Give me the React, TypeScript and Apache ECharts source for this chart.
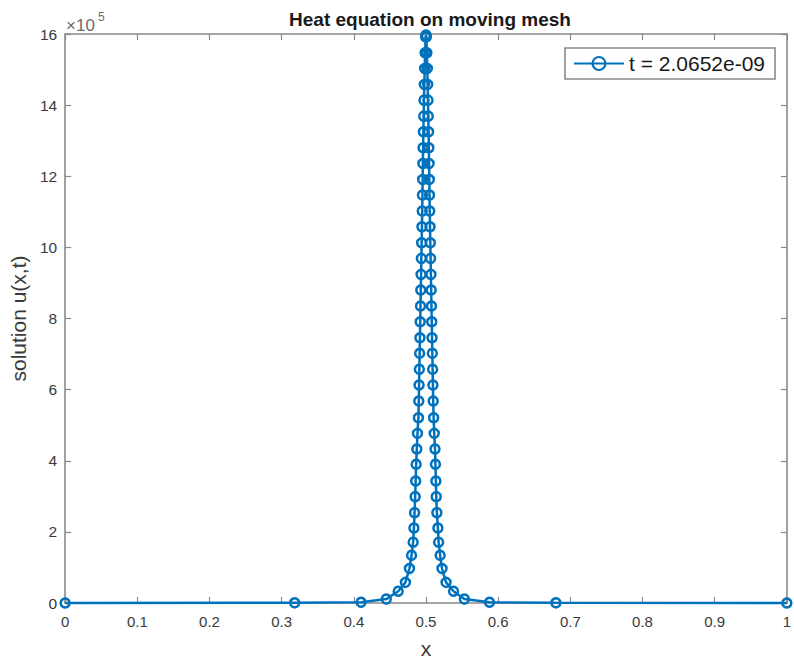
import React, { useEffect, useRef } from "react";
import * as echarts from "echarts";

// mesh node positions (x) and solution values (units of 1e5)
const meshX = [
  0, 0.318, 0.41, 0.445, 0.4615, 0.4715, 0.4771, 0.48, 0.4822, 0.4833,
  0.4842, 0.485, 0.4857, 0.4864, 0.4873, 0.4882, 0.4895, 0.49, 0.4904, 0.4908,
  0.4912, 0.4916, 0.492, 0.4924, 0.4928, 0.4932, 0.4936, 0.494, 0.4944, 0.4948,
  0.4951, 0.4954, 0.4957, 0.496, 0.4964, 0.4968, 0.4972, 0.4977, 0.4982, 0.4988,
  0.4995, 0.5,
  0.5005, 0.5012, 0.5018, 0.5023, 0.5028, 0.5032, 0.5036, 0.504, 0.5043, 0.5046,
  0.5049, 0.5052, 0.5056, 0.506, 0.5064, 0.5068, 0.5072, 0.5076, 0.508, 0.5084,
  0.5088, 0.5092, 0.5096, 0.51, 0.5106, 0.5114, 0.5125, 0.5131, 0.5137, 0.5142,
  0.5151, 0.5165, 0.5175, 0.5196, 0.5222, 0.5278, 0.5382, 0.5532, 0.588, 0.68,
  1,
];
const solutionU = [
  0, 0.005, 0.02, 0.11, 0.33, 0.58, 0.97, 1.34, 1.71, 2.11,
  2.54, 2.99, 3.43, 3.9, 4.33, 4.77, 5.21, 5.68, 6.13, 6.57,
  7.02, 7.46, 7.91, 8.35, 8.8, 9.24, 9.69, 10.13, 10.58, 11.02,
  11.47, 11.91, 12.36, 12.8, 13.25, 13.69, 14.14, 14.58, 15.03, 15.47,
  15.92, 15.97,
  15.92, 15.47, 15.03, 14.58, 14.14, 13.69, 13.25, 12.8, 12.36, 11.91,
  11.47, 11.02, 10.58, 10.13, 9.69, 9.24, 8.8, 8.35, 7.91, 7.46,
  7.02, 6.57, 6.13, 5.68, 5.21, 4.77, 4.33, 3.9, 3.43, 2.99,
  2.54, 2.11, 1.71, 1.34, 0.97, 0.58, 0.33, 0.11, 0.02, 0.005,
  0,
];
const seriesName = "t = 2.0652e-09";
const titleText = "Heat equation on moving mesh";
const xLabel = "x";
const yLabel = "solution u(x,t)";

const FONT = "Liberation Sans, Arial, Helvetica, sans-serif";
const AXIS = "#8a8a8a";
const TXT = "#3a3a3a";
const BLUE = "#0072BD";

export default function App() {
  const ref = useRef<HTMLDivElement>(null);
  useEffect(() => {
    if (!ref.current) return;
    const chart = echarts.init(ref.current, null, { renderer: "svg" });
    const data = meshX.map((x, i) => [x, solutionU[i]]);
    const tick = { show: true, inside: true, length: 6, lineStyle: { color: AXIS, width: 1.2 } };
    const line = { show: true, onZero: false, lineStyle: { color: AXIS, width: 1.6 } };
    chart.setOption({
      animation: false,
      backgroundColor: "#ffffff",
      title: {
        text: titleText,
        left: 425,
        top: 5,
        textAlign: "center",
        textStyle: { fontFamily: FONT, fontWeight: "bold", fontSize: 19, color: "#1a1a1a" },
      },
      legend: {
        left: 565,
        top: 48,
        padding: [5, 10, 5, 8],
        itemWidth: 50,
        itemHeight: 16,
        borderColor: AXIS,
        borderWidth: 1.6,
        backgroundColor: "#ffffff",
        textStyle: { fontFamily: FONT, fontSize: 21, color: "#1a1a1a" },
        data: [seriesName],
      },
      grid: { left: 65, right: 1, top: 34, bottom: 55, containLabel: false },
      xAxis: [
        {
          type: "value",
          min: 0,
          max: 1,
          interval: 0.1,
          position: "bottom",
          name: xLabel,
          nameLocation: "middle",
          nameGap: 35,
          nameTextStyle: { fontFamily: FONT, fontSize: 21, color: TXT },
          axisLine: line,
          axisTick: tick,
          splitLine: { show: false },
          axisLabel: {
            margin: 11,
            fontFamily: FONT,
            fontSize: 15,
            color: TXT,
            formatter: (v: number) => (v === 0 ? "0" : v === 1 ? "1" : v.toFixed(1)),
          },
        },
        {
          type: "value",
          min: 0,
          max: 1,
          interval: 0.1,
          position: "top",
          axisLine: line,
          axisTick: tick,
          axisLabel: { show: false },
          splitLine: { show: false },
        },
      ],
      yAxis: [
        {
          type: "value",
          min: 0,
          max: 16,
          interval: 2,
          position: "left",
          name: yLabel,
          nameLocation: "middle",
          nameGap: 33,
          nameTextStyle: { fontFamily: FONT, fontSize: 21, color: TXT },
          axisLine: line,
          axisTick: tick,
          splitLine: { show: false },
          axisLabel: { margin: 8, fontFamily: FONT, fontSize: 15.5, color: TXT },
        },
        {
          type: "value",
          min: 0,
          max: 16,
          interval: 2,
          position: "right",
          axisLine: line,
          axisTick: tick,
          axisLabel: { show: false },
          splitLine: { show: false },
        },
      ],
      graphic: [
        {
          type: "text",
          x: 66,
          y: 25,
          style: { text: "×10", font: `17px ${FONT}`, fill: "#6a6a6a", verticalAlign: "middle", align: "left" },
        },
        {
          type: "text",
          x: 98,
          y: 17,
          style: { text: "5", font: `12px ${FONT}`, fill: "#6a6a6a", verticalAlign: "middle", align: "left" },
        },
      ],
      series: [
        {
          name: seriesName,
          type: "line",
          data,
          clip: false,
          symbol: "circle",
          symbolSize: 9,
          showSymbol: true,
          lineStyle: { color: BLUE, width: 2.5 },
          itemStyle: { color: "rgba(0,0,0,0)", borderColor: BLUE, borderWidth: 2.5 },
          emphasis: { disabled: true },
        },
      ],
    });
    return () => chart.dispose();
  }, []);
  return (
    <div
      ref={ref}
      style={{ position: "absolute", left: 0, top: 0, width: 794, height: 664, background: "#fff" }}
    />
  );
}
